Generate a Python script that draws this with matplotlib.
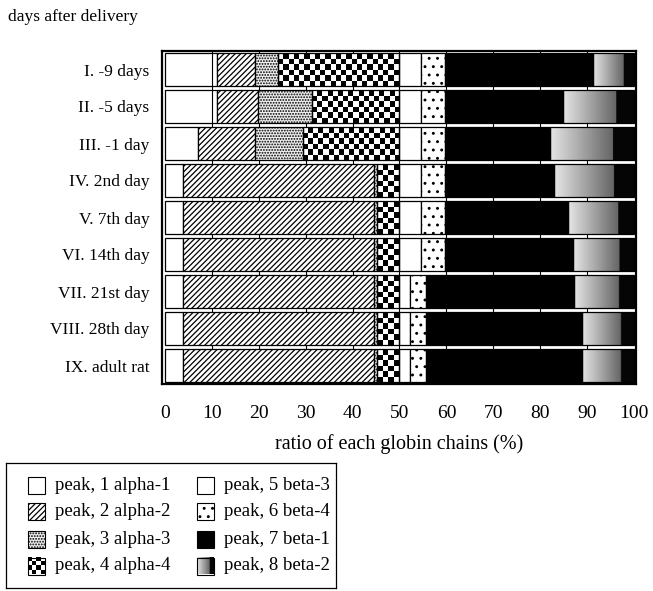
import numpy as np
import matplotlib
matplotlib.use("Agg")
import matplotlib.pyplot as plt
from matplotlib.patches import Rectangle

plt.rcParams['font.family'] = ['Liberation Serif', 'DejaVu Serif']
plt.rcParams['hatch.linewidth'] = 0.9

# ---------------- data ----------------
categories = ["I. -9 days", "II. -5 days", "III. -1 day", "IV. 2nd day", "V. 7th day",
              "VI. 14th day", "VII. 21st day", "VIII. 28th day", "IX. adult rat"]
alpha1 = [11.0, 11.0, 7.1, 3.9, 3.9, 3.9, 3.9, 3.9, 3.9]
alpha2 = [8.2, 8.9, 12.1, 40.7, 40.7, 40.7, 40.7, 40.7, 40.7]
alpha3 = [5.0, 11.4, 10.2, 0.7, 0.7, 0.7, 0.7, 0.7, 0.7]
alpha4 = [25.8, 18.7, 20.6, 4.7, 4.7, 4.7, 4.7, 4.7, 4.7]
beta3 = [4.6, 4.6, 4.6, 4.5, 4.5, 4.5, 2.2, 2.2, 2.2]
beta4 = [5.1, 5.1, 5.1, 5.2, 5.2, 5.2, 3.4, 3.4, 3.4]
beta1 = [31.6, 25.2, 22.4, 23.3, 26.2, 27.2, 31.7, 33.4, 33.4]
beta2 = [8.7, 15.1, 17.9, 17.0, 14.1, 13.1, 12.7, 11.0, 11.0]
xticks = [0, 10, 20, 30, 40, 50, 60, 70, 80, 90, 100]
legend_labels = ["peak, 1 alpha-1", "peak, 2 alpha-2", "peak, 3 alpha-3", "peak, 4 alpha-4",
                 "peak, 5 beta-3", "peak, 6 beta-4", "peak, 7 beta-1", "peak, 8 beta-2"]

series = [alpha1, alpha2, alpha3, alpha4, beta3, beta4, beta1, beta2]
styles = [
    dict(kind="plain", fc="none", hatch=None),
    dict(kind="plain", fc="white", hatch="//////"),
    dict(kind="plain", fc="#f0f0f0", hatch="......"),
    dict(kind="checker"),
    dict(kind="plain", fc="none", hatch=None),
    dict(kind="plain", fc="white", hatch=".."),
    dict(kind="plain", fc="black", hatch=None),
    dict(kind="gradient"),
]

W, H = 653, 591
fig = plt.figure(figsize=(W / 100, H / 100), dpi=100)
ax = fig.add_axes([162 / W, 1 - 384 / H, (636 - 162) / W, (384 - 51) / H])

bar_h = 0.89
ypos = np.arange(len(categories))

grad_vals = np.concatenate([np.linspace(0.9, 0.4, 75), np.full(25, 0.02)])[None, :]


def draw_checker(a, x0, w, y0, h, px_per_unit=4.69, cell=5.2, rows=6):
    ncols = max(1, int(round(w * px_per_unit / cell)))
    arr = (np.add.outer(np.arange(rows), np.arange(ncols)) % 2).astype(float)
    a.imshow(arr, extent=(x0, x0 + w, y0, y0 + h), cmap="gray", vmin=0, vmax=1,
             interpolation="nearest", aspect="auto", zorder=2)


def draw_gradient(a, x0, w, y0, h):
    a.imshow(grad_vals, extent=(x0, x0 + w, y0, y0 + h), cmap="gray", vmin=0, vmax=1,
             interpolation="bilinear", aspect="auto", zorder=2)


# grid
for t in xticks[1:-1]:
    ax.axvline(t, color="black", lw=0.8, zorder=0)

left = np.zeros(len(categories))
for vals, st in zip(series, styles):
    vals = np.asarray(vals)
    if st["kind"] == "plain":
        ax.barh(ypos, vals, left=left, height=bar_h, facecolor=st["fc"], hatch=st["hatch"],
                edgecolor="black", linewidth=0.9, zorder=3)
    else:
        for i, (l, v) in enumerate(zip(left, vals)):
            if st["kind"] == "checker":
                draw_checker(ax, l, v, i - bar_h / 2, bar_h)
            else:
                draw_gradient(ax, l, v, i - bar_h / 2, bar_h)
        ax.barh(ypos, vals, left=left, height=bar_h, facecolor="none",
                edgecolor="black", linewidth=0.9, zorder=3)
    left = left + vals

ax.set_xlim(-0.64, 100.43)
ax.set_ylim(len(categories) - 0.5, -0.5)
ax.set_yticks(ypos)
ax.set_yticklabels(categories, fontsize=12.5)
ax.set_xticks(xticks)
ax.set_xticklabels([str(t) for t in xticks], fontsize=14)
ax.tick_params(axis="both", length=0)
ax.tick_params(axis="x", pad=15)
ax.tick_params(axis="y", pad=9)
for s in ax.spines.values():
    s.set_linewidth(1.6)
ax.set_xlabel("ratio of each globin chains (%)", fontsize=14.5, labelpad=9)

fig.text(8 / W, 1 - 17 / H, "days after delivery", fontsize=12.5, va="center", ha="left")

# ---------------- legend ----------------
lx0, ly0, lx1, ly1 = 6, 463, 336, 588
lax = fig.add_axes([lx0 / W, 1 - ly1 / H, (lx1 - lx0) / W, (ly1 - ly0) / H])
lax.set_xlim(0, lx1 - lx0)
lax.set_ylim(ly1 - ly0, 0)
lax.set_xticks([])
lax.set_yticks([])
for s in lax.spines.values():
    s.set_linewidth(0.9)

row_y = [485, 511, 539, 566]
col_x = [28, 197]
sw = 17
for k, (lab, st) in enumerate(zip(legend_labels, styles)):
    col, row = divmod(k, 4)
    cx = col_x[col] - lx0
    cy = row_y[row] - ly0
    y0 = cy - sw / 2
    if st["kind"] == "plain":
        lax.add_patch(Rectangle((cx, y0), sw, sw, facecolor=st["fc"] if st["fc"] != "none" else "white",
                                hatch=st["hatch"], edgecolor="black", linewidth=0.8))
    elif st["kind"] == "checker":
        ncols = 4
        arr = (np.add.outer(np.arange(4), np.arange(ncols)) % 2).astype(float)
        lax.imshow(arr, extent=(cx, cx + sw, y0 + sw, y0), cmap="gray", vmin=0, vmax=1,
                   interpolation="nearest", aspect="auto")
        lax.add_patch(Rectangle((cx, y0), sw, sw, facecolor="none", edgecolor="black", linewidth=0.8))
    else:
        lax.imshow(grad_vals, extent=(cx, cx + sw, y0 + sw, y0), cmap="gray", vmin=0, vmax=1,
                   interpolation="bilinear", aspect="auto")
        lax.add_patch(Rectangle((cx, y0), sw, sw, facecolor="none", edgecolor="black", linewidth=0.8))
    lax.text(cx + sw + 10, cy, lab, fontsize=13.5, va="center", ha="left")
lax.set_xlim(0, lx1 - lx0)
lax.set_ylim(ly1 - ly0, 0)

fig.savefig("out.png", dpi=100)
